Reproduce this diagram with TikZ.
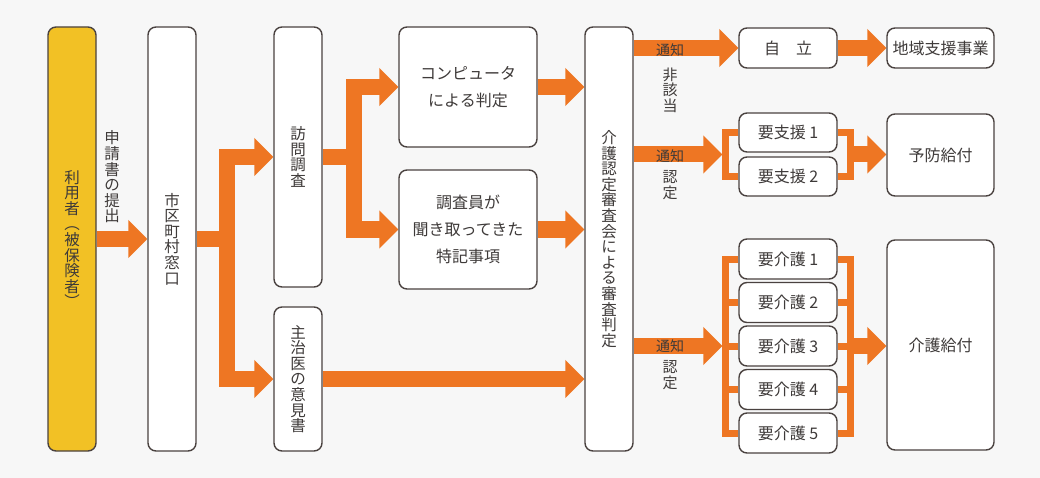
\documentclass[tikz,border=0pt]{standalone}
\usepackage{fontspec}
\setmainfont{Noto Sans CJK JP}
\usetikzlibrary{arrows.meta, positioning, calc, backgrounds}
\definecolor{KOrange}{HTML}{EE7623}
\definecolor{KYellow}{HTML}{F2C125}
\definecolor{KBorder}{HTML}{4A4240}
\definecolor{KText}{HTML}{3E3A39}
\definecolor{KBack}{HTML}{F7F7F7}
\tikzset{
    flatbox/.style={
        rectangle,
        rounded corners=8pt,
        draw=KBorder,
        fill=white,
        line width=1.4pt,
        align=center,
        inner sep=0pt,
        text=KText,
        font=\fontsize{16}{27}\selectfont
    },
    tallbox/.style={
        flatbox,
        minimum width=48pt,
        font=\fontsize{15.5}{15.6}\selectfont
    },
    levelbox/.style={
        flatbox,
        minimum width=98pt,
        minimum height=39pt
    },
    flowarrow/.style={
        -{Triangle[length=19pt, width=37pt]},
        draw=KOrange,
        line width=16pt
    },
    bracket/.style={
        draw=KOrange,
        line width=7pt
    },
    labeltext/.style={
        text=KText,
        inner sep=0pt,
        font=\fontsize{14}{14}\selectfont
    },
    vlabel/.style={
        text=KText,
        align=center,
        inner sep=0pt,
        font=\fontsize{15}{15.5}\selectfont
    }
}

\begin{document}
\begin{tikzpicture}[x=1pt, y=-1pt]
    \useasboundingbox (0,0) rectangle (1040,478);
    \begin{scope}[on background layer]
        \fill[KBack] (0,0) rectangle (1040,478);
    \end{scope}

    % Applicant and municipality
    \node[tallbox, fill=KYellow, minimum height=424pt] (user) at (72,239) {利\\用\\者\\︵\\被\\保\\険\\者\\︶};
    \node[tallbox, minimum height=424pt] (city) at (172,239) {市\\区\\町\\村\\窓\\口};
    \node[vlabel, font=\fontsize{15.5}{15.6}\selectfont] (apply) at (112,177) {申\\請\\書\\の\\提\\出};

    % Survey and doctor
    \node[tallbox, minimum height=260pt] (visit) at (298,157) {訪\\問\\調\\査};
    \node[tallbox, minimum height=144pt] (doctor) at (298,379) {主\\治\\医\\の\\意\\見\\書};
    \node[flatbox, minimum width=138pt, minimum height=120pt] (computer) at (468,87) {コンピュータ\\による判定};
    \node[flatbox, minimum width=138pt, minimum height=119pt] (notes) at (468,229.5) {調査員が\\聞き取ってきた\\特記事項};

    % Board
    \node[tallbox, minimum height=424pt] (board) at (609,239) {介\\護\\認\\定\\審\\査\\会\\に\\よ\\る\\審\\査\\判\\定};

    % Results
    \node[levelbox, minimum height=40pt] (indep) at (788,48) {自　立};
    \node[flatbox, minimum width=107pt, minimum height=40pt] (region) at (940.5,48) {地域支援事業};
    \node[levelbox] (sup1) at (788,132.5) {要支援 1};
    \node[levelbox] (sup2) at (788,176.5) {要支援 2};
    \node[flatbox, minimum width=107pt, minimum height=82pt] (prevent) at (940.5,155) {予防給付};
    \foreach \i in {1,...,5}
        \node[levelbox, minimum height=40pt] (care\i) at (788,{259+43.5*(\i-1)}) {要介護 \i};
    \node[flatbox, minimum width=107pt, minimum height=210pt] (benefit) at (940.5,345) {介護給付};

    % Labels on the notice arrows
    \node[labeltext] (notice1) at (670,50) {通知};
    \node[labeltext] (notice2) at (670,156) {通知};
    \node[labeltext] (notice3) at (670,346) {通知};
    \node[vlabel] (nonapp) at (670,90) {非\\該\\当};
    \node[vlabel] (cert1) at (670,185) {認\\定};
    \node[vlabel] (cert2) at (670,375) {認\\定};

    % Connectors
    \begin{scope}[on background layer]
        \draw[flowarrow] (user.east) -- (city.west);

        \coordinate (fork1) at ($(city.east)+(30,0)$);
        \draw[flowarrow] (city.east) -- (fork1) |- (visit.west);
        \draw[flowarrow] (fork1) |- (doctor.west);

        \coordinate (fork2) at ($(visit.east)+(31.5,0)$);
        \draw[flowarrow] (visit.east) -- (fork2) |- (computer.west);
        \draw[flowarrow] (fork2) |- (notes.west);

        \draw[flowarrow] (computer.east) -- (computer.east -| board.west);
        \draw[flowarrow] (notes.east) -- (notes.east -| board.west);
        \draw[flowarrow] (doctor.east) -- (doctor.east -| board.west);

        \draw[flowarrow] (board.east |- indep.west) -- (indep.west);
        \draw[flowarrow] (indep.east) -- (region.west);

        % support levels
        \coordinate (supin) at ($(sup1.west)!0.5!(sup2.west)+(-16,0)$);
        \coordinate (supout) at ($(sup1.east)!0.5!(sup2.east)+(12.5,0)$);
        \draw[bracket] (sup1.west) -- ++(-12.5,0) |- (sup2.west);
        \draw[bracket] (sup1.east) -- ++(12.5,0) |- (sup2.east);
        \draw[flowarrow] (board.east |- supin) -- (supin);
        \draw[flowarrow] (supout) -- (supout -| prevent.west);

        % care levels
        \coordinate (carein) at ($(care3.west)+(-16,0)$);
        \coordinate (careout) at ($(care3.east)+(12.5,0)$);
        \draw[bracket] (care1.west) -- ++(-12.5,0) |- (care5.west);
        \draw[bracket] (care1.east) -- ++(12.5,0) |- (care5.east);
        \foreach \i in {2,3,4} {
            \draw[bracket] (care\i.west) -- ++(-16,0);
            \draw[bracket] (care\i.east) -- ++(16,0);
        }
        \draw[flowarrow] (board.east |- carein) -- (carein);
        \draw[flowarrow] (careout) -- (careout -| benefit.west);
    \end{scope}
\end{tikzpicture}
\end{document}
